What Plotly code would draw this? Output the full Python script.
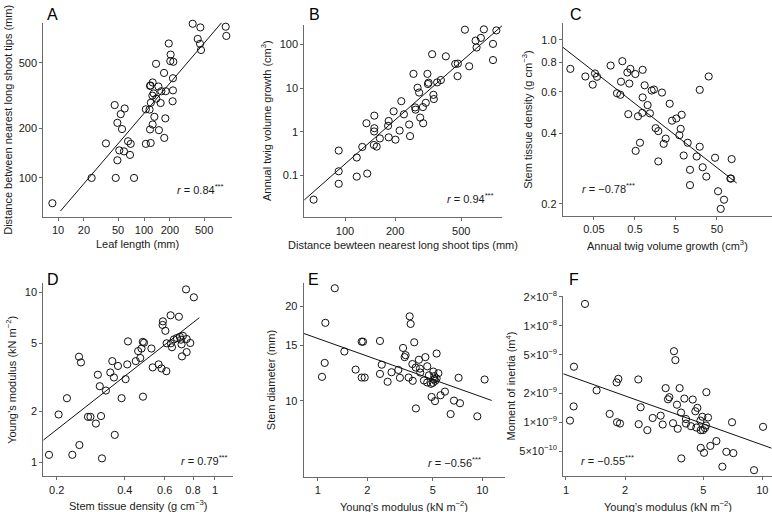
import plotly.graph_objects as go

# ---------------- data ----------------
# Panel A: leaf length (mm) vs distance between nearest long shoot tips (mm)
a_x = [8.6, 24.6, 46.9, 76.6, 36.1, 45.6, 59.6, 53.6, 49, 55.5, 51.6, 58.5, 49, 65.2, 70, 68.7,
       105, 105, 119.6, 117.5, 126, 132, 116, 120, 125, 129.5, 117.5, 119, 126, 139, 147, 156,
       159, 149, 138, 179, 171, 177, 172, 194, 204, 202, 219, 217, 217, 215, 368, 452, 421,
       448, 460, 891, 906]
a_y = [70.2, 100, 100, 100, 162, 277, 264, 244, 216, 198, 147, 145, 128, 167, 161, 138,
       261, 161, 163, 197, 211, 235, 260, 286, 316, 326, 362, 364, 380, 303, 359, 285,
       336, 195, 493, 336, 434, 230, 175, 655, 561, 512, 507, 403, 340, 292, 863, 820, 698,
       652, 598, 828, 728]
a_fit_x = [10.7, 1045]
a_fit_y = [63, 1033]

# Panel B: distance between nearest long shoot tips (mm) vs annual twig volume growth (cm3)
b_x = [64.7, 91.6, 91.6, 91.6, 117.6, 117.6, 127, 136, 134.5, 150, 150, 149.6, 149, 155, 162,
       183, 181.5, 183, 196, 201, 213, 218, 226, 243, 246, 258, 264, 265.5, 273, 279, 283,
       294, 295, 306, 313, 315, 318, 334, 340, 342, 358, 377, 404, 460, 477, 475, 526, 558,
       610, 618, 656, 684, 776, 776, 813]
b_y = [0.0275, 0.368, 0.123, 0.0635, 0.255, 0.093, 0.446, 0.109, 1.56, 2.33, 1.2, 1.01, 0.495,
       0.454, 0.70, 1.76, 1.36, 0.74, 2.93, 0.655, 1.06, 5.0, 2.5, 1.46, 0.79, 21.2, 3.6, 3.2,
       10.2, 7.9, 2.1, 3.66, 1.56, 4.6, 21.2, 12.4, 13.3, 60, 7.0, 5.6, 13.5, 15.3, 53.5, 35.8,
       36.5, 18.8, 219, 31.7, 123, 85.4, 142, 223, 103.5, 44, 211]
b_fit_x = [56, 879]
b_fit_y = [0.0257, 270]

# Panel C: annual twig volume growth (cm3) vs stem tissue density (g cm-3)
c_x = [0.01334, 0.031, 0.0468, 0.0532, 0.0596, 0.128, 0.183, 0.221, 0.229, 0.247, 0.327, 0.387,
       0.365, 0.345, 0.512, 0.521, 0.594, 0.664, 0.757, 0.771, 0.771, 0.863, 1.02, 1.16, 1.28,
       1.46, 1.6, 1.86, 1.86, 2.28, 2.51, 2.81, 3.52, 4.01, 5.12, 6.05, 6.53, 6.9, 7.72, 9.67,
       11.0, 11.0, 16.0, 19.0, 19.0, 22.4, 27.5, 31.4, 44.9, 53.1, 61.7, 74.3, 110, 114, 106]
c_y = [0.752, 0.698, 0.644, 0.719, 0.696, 0.777, 0.592, 0.583, 0.663, 0.811, 0.726, 0.752,
       0.651, 0.482, 0.715, 0.336, 0.472, 0.364, 0.488, 0.745, 0.568, 0.64, 0.527, 0.486, 0.608,
       0.614, 0.42, 0.408, 0.303, 0.596, 0.36, 0.379, 0.534, 0.452, 0.462, 0.392, 0.417, 0.479,
       0.321, 0.364, 0.279, 0.24, 0.318, 0.612, 0.35, 0.286, 0.261, 0.698, 0.314, 0.226, 0.19,
       0.208, 0.256, 0.31, 0.256]
c_fit_x = [0.00869, 151]
c_fit_y = [0.931, 0.245]

# Panel D: stem tissue density (g cm-3) vs Young's modulus (kN m-2)
d_x = [0.185, 0.204, 0.222, 0.2345, 0.252, 0.251, 0.256, 0.275, 0.282, 0.298, 0.304, 0.31,
       0.314, 0.317, 0.33, 0.345, 0.352, 0.358, 0.361, 0.373, 0.387, 0.403, 0.41, 0.413, 0.447,
       0.458, 0.468, 0.474, 0.48, 0.486, 0.481, 0.524, 0.531, 0.564, 0.581, 0.589, 0.587, 0.604,
       0.61, 0.612, 0.637, 0.639, 0.646, 0.659, 0.679, 0.693, 0.7, 0.708, 0.712, 0.715, 0.722,
       0.745, 0.75, 0.75, 0.778, 0.807]
d_y = [1.107, 1.91, 2.38, 1.107, 1.264, 4.17, 3.86, 1.85, 1.85, 1.69, 3.27, 2.8, 1.87, 1.055,
       2.64, 3.37, 3.93, 3.15, 1.45, 3.68, 2.38, 3.08, 3.76, 5.13, 3.93, 4.5, 4.1, 4.66, 5.1,
       5.04, 2.43, 4.66, 3.61, 3.76, 3.56, 6.73, 6.41, 5.92, 3.43, 5.0, 7.3, 5.0, 4.74, 5.27,
       5.37, 7.16, 5.46, 5.25, 4.93, 4.19, 5.53, 10.36, 5.3, 4.44, 5.02, 9.31]
d_fit_x = [0.1746, 0.853]
d_fit_y = [1.35, 7.07]

# Panel E: Young's modulus (kN m-2) vs stem diameter (mm)
e_x = [1.27, 1.113, 1.103, 1.062, 1.452, 1.70, 1.85, 1.885, 1.85, 1.93, 2.39, 2.39, 2.45, 2.66,
       2.81, 3.09, 3.16, 3.30, 3.375, 3.42, 3.57, 3.62, 3.67, 3.76, 3.78, 3.86, 3.94, 3.95, 4.12,
       4.18, 4.2, 4.42, 4.51, 4.63, 4.63, 4.74, 4.88, 4.92, 5.01, 5.04, 5.09, 5.11, 5.16, 5.18,
       5.28, 5.28, 5.41, 5.58, 5.93, 6.42, 6.73, 7.18, 7.32, 9.33, 10.33]
e_y = [22.8, 17.7, 13.2, 11.92, 14.35, 12.57, 15.42, 15.42, 11.86, 11.86, 15.5, 12.18, 13.03,
       11.5, 12.33, 12.54, 11.84, 14.73, 13.77, 13.97, 11.86, 18.56, 17.56, 13.09, 11.58, 15.35,
       12.76, 9.46, 13.51, 12.66, 12.3, 11.61, 13.77, 12.88, 11.44, 12.06, 11.33, 10.29, 11.41,
       12.39, 11.7, 11.98, 9.98, 11.58, 11.78, 14.14, 12.24, 10.42, 10.7, 9.08, 10.02, 11.84,
       9.83, 8.93, 11.69]
e_fit_x = [0.822, 11.4]
e_fit_y = [16.38, 10.03]

# Panel F: Young's modulus (kN m-2) vs moment of inertia (m4)
f_x = [1.25, 1.098, 1.048, 1.094, 1.432, 1.669, 1.848, 1.81, 1.82, 1.884, 2.335, 2.40, 2.345,
       2.596, 2.763, 3.035, 3.108, 3.218, 3.307, 3.36, 3.548, 3.606, 3.508, 3.675, 3.706, 3.79,
       3.854, 3.866, 4.007, 4.083, 4.083, 4.33, 4.42, 4.557, 4.61, 4.667, 4.834, 4.853, 4.853,
       4.948, 4.987, 5.046, 5.1, 5.165, 5.187, 5.288, 5.433, 5.833, 6.256, 6.556, 7.007, 7.114,
       9.07, 10.08]
f_y = [1.69e-8, 3.77e-9, 1.04e-9, 1.46e-9, 2.14e-9, 1.22e-9, 2.82e-9, 2.59e-9, 1.0e-9, 9.7e-10,
       2.78e-9, 1.43e-9, 9.55e-10, 8.28e-10, 1.107e-9, 1.17e-9, 9.47e-10, 2.26e-9, 1.73e-9,
       1.82e-9, 5.46e-9, 4.41e-9, 9.77e-10, 1.52e-9, 8.55e-10, 2.26e-9, 1.26e-9, 4.21e-10,
       1.76e-9, 1.08e-9, 9.69e-10, 9.1e-10, 1.72e-9, 1.3e-9, 8.81e-10, 1.41e-9, 1.04e-9,
       8.28e-10, 5.42e-10, 1.14e-9, 8.28e-10, 4.82e-10, 8.69e-10, 9.25e-10, 2.05e-9, 1.12e-9,
       5.68e-10, 6.38e-10, 3.46e-10, 4.93e-10, 1.0e-9, 4.78e-10, 3.18e-10, 8.96e-10]
f_fit_x = [0.969, 11.16]
f_fit_y = [3.18e-9, 5.37e-10]

# tick values / labels
a_xticks = [10, 20, 50, 100, 200, 500]
a_yticks = [100, 200, 500]
b_xticks = [100, 200, 500]
b_yticks = [0.1, 1, 10, 100]
b_yticklabels = ["0.1", "1", "10", "100"]
c_xticks = [0.05, 0.5, 5, 50]
c_xticklabels = ["0.05", "0.5", "5", "50"]
c_yticks = [0.2, 0.4, 0.6, 0.8, 1.0]
c_yticklabels = ["0.2", "0.4", "0.6", "0.8", "1.0"]
d_xticks = [0.2, 0.4, 0.6, 0.8, 1]
d_xticklabels = ["0.2", "0.4", "0.6", "0.8", "1"]
d_yticks = [1, 2, 5, 10]
e_xticks = [1, 2, 5, 10]
e_yticks = [10, 15, 20]
f_xticks = [1, 2, 5, 10]
f_yticks = [5e-10, 1e-9, 2e-9, 5e-9, 1e-8, 2e-8]
f_yticklabels = ["5\u00d710<sup>\u221210</sup>", "1\u00d710<sup>\u22129</sup>",
                 "2\u00d710<sup>\u22129</sup>", "5\u00d710<sup>\u22129</sup>",
                 "1\u00d710<sup>\u22128</sup>", "2\u00d710<sup>\u22128</sup>"]

letters = ["A", "B", "C", "D", "E", "F"]
r_texts = ["<i>r</i> = 0.84<sup>***</sup>", "<i>r</i> = 0.94<sup>***</sup>",
           "<i>r</i> = \u22120.78<sup>***</sup>", "<i>r</i> = 0.79<sup>***</sup>",
           "<i>r</i> = \u22120.56<sup>***</sup>", "<i>r</i> = \u22120.55<sup>***</sup>"]
x_titles = ["Leaf length (mm)",
            "Distance bewteen nearest long shoot tips (mm)",
            "Annual twig volume growth (cm<sup>3</sup>)",
            "Stem tissue density (g cm<sup>\u22123</sup>)",
            "Young\u2019s modulus (kN m<sup>\u22122</sup>)",
            "Young\u2019s modulus (kN m<sup>\u22122</sup>)"]
y_titles = ["Distance between nearest long shoot tips (mm)",
            "Annual twig volume growth (cm<sup>3</sup>)",
            "Stem tissue density (g cm<sup>\u22123</sup>)",
            "Young\u2019s modulus (kN m<sup>\u22122</sup>)",
            "Stem diameter (mm)",
            "Moment of inertia (m<sup>4</sup>)"]

# ---------------- layout geometry (pixels of a 772x512 canvas) ----------------
W, H = 772, 512
FONT = "Liberation Sans, Arial, Helvetica, sans-serif"
AX = "#6a6a6a"

panels = [
    dict(xs=a_x, ys=a_y, fx=a_fit_x, fy=a_fit_y, px=(43.3, 232), py=(16, 212.7),
         xr=(0.829, 3.023), yr=(1.764, 2.942), xt=a_xticks, xl=[str(v) for v in a_xticks],
         yt=a_yticks, yl=[str(v) for v in a_yticks], letter=(53, 8), rpos=(201, 185),
         xtitle_y=240, ytitle_x=8),
    dict(xs=b_x, ys=b_y, fx=b_fit_x, fy=b_fit_y, px=(304.3, 502), py=(18, 213.3),
         xr=(1.755, 2.944), yr=(-1.968, 2.454), xt=b_xticks, xl=[str(v) for v in b_xticks],
         yt=b_yticks, yl=b_yticklabels, letter=(314, 8), rpos=(470, 194),
         xtitle_y=241, ytitle_x=266),
    dict(xs=c_x, ys=c_y, fx=c_fit_x, fy=c_fit_y, px=(562.7, 772), py=(16.7, 212),
         xr=(-2.061, 3.04), yr=(-0.752, 0.070), xt=c_xticks, xl=c_xticklabels,
         yt=c_yticks, yl=c_yticklabels, letter=(576, 8), rpos=(608, 184),
         xtitle_y=241, ytitle_x=527),
    dict(xs=d_x, ys=d_y, fx=d_fit_x, fy=d_fit_y, px=(43.3, 233.3), py=(280, 476),
         xr=(-0.758, 0.081), yr=(-0.083, 1.052), xt=d_xticks, xl=d_xticklabels,
         yt=d_yticks, yl=[str(v) for v in d_yticks], letter=(53, 276), rpos=(204, 459),
         xtitle_y=505, ytitle_x=11),
    dict(xs=e_x, ys=e_y, fx=e_fit_x, fy=e_fit_y, px=(303.7, 505), py=(280, 476.7),
         xr=(-0.085, 1.138), yr=(0.7575, 1.374), xt=e_xticks, xl=[str(v) for v in e_xticks],
         yt=e_yticks, yl=[str(v) for v in e_yticks], letter=(313, 276), rpos=(454, 461),
         xtitle_y=506, ytitle_x=271),
    dict(xs=f_x, ys=f_y, fx=f_fit_x, fy=f_fit_y, px=(563.3, 771.7), py=(293.3, 476),
         xr=(-0.0136, 1.0475), yr=(-9.563, -7.693), xt=f_xticks, xl=[str(v) for v in f_xticks],
         yt=f_yticks, yl=f_yticklabels, letter=(574, 276), rpos=(607, 459),
         xtitle_y=506, ytitle_x=511),
]

fig = go.Figure()
annotations = []
layout = dict(width=W, height=H, margin=dict(l=0, r=0, t=0, b=0),
              paper_bgcolor="white", plot_bgcolor="white", showlegend=False,
              font=dict(family=FONT, size=11, color="#1a1a1a"))

for i, p in enumerate(panels, start=1):
    xa = "x" if i == 1 else f"x{i}"
    ya = "y" if i == 1 else f"y{i}"
    fig.add_trace(go.Scatter(x=p["xs"], y=p["ys"], mode="markers", xaxis=xa, yaxis=ya,
                             marker=dict(symbol="circle-open", size=7.2, color="#111",
                                         line=dict(width=1, color="#111")),
                             cliponaxis=False, hoverinfo="skip"))
    fig.add_trace(go.Scatter(x=p["fx"], y=p["fy"], mode="lines", xaxis=xa, yaxis=ya,
                             line=dict(color="#111", width=1), hoverinfo="skip"))
    xd = [p["px"][0] / W, min(p["px"][1] / W, 1.0)]
    yd = [1 - p["py"][1] / H, 1 - p["py"][0] / H]
    common = dict(type="log", showline=True, linecolor=AX, linewidth=1, ticks="outside",
                  ticklen=3, tickcolor=AX, tickwidth=1, showgrid=False, zeroline=False,
                  tickfont=dict(family=FONT, size=11, color="#1a1a1a"), tickmode="array")
    layout["xaxis" if i == 1 else f"xaxis{i}"] = dict(
        common, domain=xd, range=list(p["xr"]), anchor=ya, tickvals=p["xt"], ticktext=p["xl"])
    layout["yaxis" if i == 1 else f"yaxis{i}"] = dict(
        common, domain=yd, range=list(p["yr"]), anchor=xa, tickvals=p["yt"], ticktext=p["yl"])

    cx = (p["px"][0] + p["px"][1]) / 2
    cy = (p["py"][0] + p["py"][1]) / 2
    annotations.append(dict(text=x_titles[i - 1], x=cx / W, y=1 - p["xtitle_y"] / H,
                            xref="paper", yref="paper", showarrow=False,
                            xanchor="center", yanchor="middle", font=dict(size=11)))
    annotations.append(dict(text=y_titles[i - 1], x=p["ytitle_x"] / W, y=1 - cy / H,
                            xref="paper", yref="paper", showarrow=False, textangle=-90,
                            xanchor="center", yanchor="middle", font=dict(size=11)))
    annotations.append(dict(text=letters[i - 1], x=p["letter"][0] / W, y=1 - p["letter"][1] / H,
                            xref="paper", yref="paper", showarrow=False,
                            xanchor="center", yanchor="middle",
                            font=dict(size=16, color="#000")))
    annotations.append(dict(text=r_texts[i - 1], x=p["rpos"][0] / W, y=1 - p["rpos"][1] / H,
                            xref="paper", yref="paper", showarrow=False,
                            xanchor="center", yanchor="middle", font=dict(size=11)))

layout["annotations"] = annotations
fig.update_layout(**layout)
fig.write_html("out.html", config={"displayModeBar": False})

# remove the browser's default page margin so the 772x512 figure fills the window exactly
with open("out.html", "r", encoding="utf-8") as fh:
    html = fh.read()
html = html.replace("<head>", "<head><style>html,body{margin:0;padding:0;overflow:hidden;}</style>", 1)
with open("out.html", "w", encoding="utf-8") as fh:
    fh.write(html)
